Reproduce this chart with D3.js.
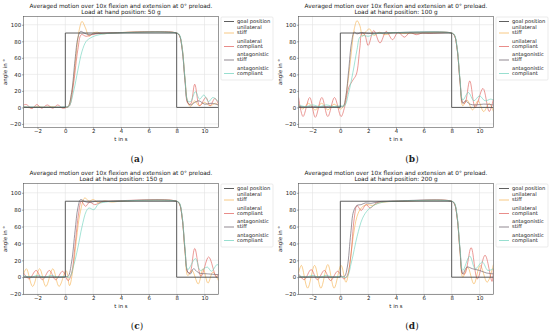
<!DOCTYPE html>
<html lang="en">
<head>
  <meta charset="UTF-8">
  <title>Averaged motion</title>
  <style>
    body { margin: 0; background: #fff; }
    text { font-family: "DejaVu Sans", sans-serif; fill: #222; }
  </style>
</head>
<body>
  <script src="https://d3js.org/d3.v7.min.js"></script>
  <div id="chart"></div>
  <script>

    // labels and ticks
    var titleLine = "Averaged motion over 10x flexion and extension at 0\u00b0 preload."
    var loads = ["50 g", "100 g", "150 g", "200 g"]
    var captions = ["a", "b", "c", "d"]
    var seriesNames = ["goal position", "unilateral\nstiff", "unilateral\ncompliant", "antagonistic\nstiff", "antagonistic\ncompliant"]
    var xTicks = [-2, 0, 2, 4, 6, 8, 10]
    var yTicks = [-20, 0, 20, 40, 60, 80, 100]

    // goal trajectory, same in every panel
    var goal = [[-3, 0], [0, 0], [0, 90], [8, 90], [8, 0], [11, 0]]

    // (a) 50 g
    var a_uniStiff = [[-3, 1], [-2.5, -0.5], [-2, 1], [-1.5, 0], [-1, 1], [-0.5, 0], [0, 0], [0.2, 1], [0.5, 22], [0.8, 68], [1.0, 94], [1.2, 104], [1.45, 96], [1.7, 86], [2.0, 90], [2.3, 91], [2.7, 89], [3.2, 90], [8, 90], [8.2, 87], [8.4, 72], [8.6, 35], [8.8, 6], [9.0, 1], [9.3, 8], [9.6, 2], [10.0, 6], [10.4, 2], [10.8, 5], [11, 2]]
    var a_uniComp = [[-3, 3], [-2.8, 3.5], [-2.4, -1.5], [-2.05, 3.5], [-1.7, -1], [-1.3, 3], [-0.9, -1], [-0.55, 3], [-0.2, -1], [0.1, 0], [0.3, 2], [0.6, 30], [0.9, 70], [1.15, 88], [1.5, 86], [1.9, 88], [2.5, 89.5], [3.2, 90], [8, 90], [8.2, 87], [8.4, 70], [8.6, 32], [8.8, 5], [9.0, 4], [9.3, 28], [9.65, 2], [10.1, 12], [10.4, 2], [10.75, 11], [11, 4]]
    var a_antStiff = [[-3, 0.5], [0, 0.5], [0.2, 1], [0.45, 18], [0.7, 58], [0.9, 84], [1.1, 92], [1.35, 90], [1.7, 88], [2.2, 89.5], [3, 90], [8, 90], [8.2, 87], [8.4, 70], [8.6, 33], [8.8, 6], [9.0, 3], [9.3, 6], [9.6, 8], [10.0, 4], [10.5, 5], [11, 3]]
    var a_antComp = [[-3, 0.5], [0, 0.5], [0.25, 1], [0.6, 20], [0.9, 45], [1.2, 68], [1.5, 80], [1.8, 84], [2.2, 87], [2.8, 89], [3.6, 90], [8, 90], [8.2, 88], [8.4, 72], [8.6, 35], [8.8, 8], [9.0, 7], [9.35, 19], [9.65, 10], [9.95, 15], [10.3, 7], [10.6, 12], [11, 7]]

    // (b) 100 g
    var b_uniStiff = [[-3, 4], [-2.7, -2], [-2.3, 5], [-1.8, -3], [-1.35, 5], [-0.9, -3], [-0.45, 4], [0, -2], [0.25, 2], [0.5, 25], [0.8, 68], [1.0, 95], [1.2, 105], [1.4, 99], [1.6, 86], [1.85, 92], [2.1, 95], [2.4, 87], [2.8, 91], [3.2, 88], [3.8, 90.5], [4.5, 89.5], [5.5, 90], [8, 90], [8.2, 87], [8.4, 70], [8.6, 32], [8.8, 2], [9.1, 9], [9.5, -3], [9.9, 8], [10.3, -5], [10.7, 5], [11, -5]]
    var b_uniComp = [[-3, 12], [-2.68, -11], [-2.2, 12], [-1.8, -12], [-1.33, 12], [-0.9, -11], [-0.42, 12], [0.05, -11], [0.3, 0], [0.6, 24], [0.9, 33], [1.15, 40], [1.4, 72], [1.55, 90], [1.75, 88], [2.0, 75], [2.4, 93], [2.85, 78], [3.3, 92], [3.75, 82], [4.15, 91], [4.6, 85], [5.0, 90.5], [5.45, 88], [5.9, 90], [6.4, 89.5], [7, 90], [8, 90], [8.2, 87], [8.4, 70], [8.6, 32], [8.8, 6], [8.95, 5], [9.3, 32], [9.7, 0], [10.25, 23], [10.7, -5], [11, 10]]
    var b_antStiff = [[-3, 1], [0, 1], [0.2, 1], [0.4, 14], [0.6, 45], [0.8, 78], [1.0, 91], [1.2, 89], [1.5, 90.5], [2, 89.5], [3, 90], [8, 90], [8.2, 87], [8.4, 70], [8.6, 32], [8.8, 5], [9.0, 8], [9.3, 4], [9.7, 3], [10.3, 4], [11, 3]]
    var b_antComp = [[-3, 3], [-2.5, 1], [-2, 3], [-1.5, 1], [-1, 3], [-0.5, 1], [0, 2], [0.3, 2], [0.6, 18], [0.9, 42], [1.2, 70], [1.4, 85], [1.65, 87], [2.0, 86], [2.5, 89], [3.2, 90], [8, 90], [8.2, 88], [8.4, 72], [8.6, 35], [8.8, 9], [9.2, 18], [9.6, 8], [10.0, 14], [10.4, 8], [10.8, 10], [11, 9]]

    // (c) 150 g
    var c_uniStiff = [[-3, 4], [-2.8, 10], [-2.35, -11], [-1.85, 10], [-1.4, -11], [-0.9, 10], [-0.45, -11], [0.05, 8], [0.3, -10], [0.55, 10], [0.8, 45], [1.05, 75], [1.4, 94], [1.7, 90], [2.0, 92], [2.4, 88], [2.8, 90.5], [3.3, 89], [4, 90], [8, 90], [8.2, 87], [8.4, 70], [8.6, 30], [8.8, 2], [9.1, 8], [9.55, -8], [9.9, 10], [10.25, -7], [10.6, 6], [11, -4]]
    var c_uniComp = [[-3, 5], [-2.6, -2], [-2.1, 8], [-1.65, -3], [-1.15, 8], [-0.7, -3], [-0.2, 7], [0.2, -4], [0.45, 5], [0.7, 38], [0.95, 75], [1.15, 90], [1.45, 84], [1.75, 89], [2.1, 86], [2.6, 89], [3.2, 90], [8, 90], [8.2, 87], [8.4, 70], [8.6, 32], [8.8, 6], [8.95, 5], [9.3, 34], [9.75, 1], [10.3, 24], [10.85, 0], [11, 4]]
    var c_antStiff = [[-3, 0.5], [0, 0.5], [0.2, 1], [0.45, 18], [0.7, 55], [0.9, 82], [1.1, 92], [1.35, 90], [1.7, 88.5], [2.2, 90], [3, 90], [8, 90], [8.2, 87], [8.4, 70], [8.6, 32], [8.8, 6], [9.0, 4], [9.2, 10], [9.6, 5], [10.2, 4], [11, 3]]
    var c_antComp = [[-3, 2], [-2.5, 0], [-2, 2], [-1.5, 0], [-1, 2], [-0.5, 0], [0, 1], [0.3, 0], [0.6, 14], [0.9, 35], [1.2, 60], [1.5, 78], [1.7, 82], [2.05, 80], [2.4, 87], [2.9, 89], [3.6, 90], [8, 90], [8.2, 88], [8.4, 72], [8.6, 35], [8.8, 9], [9.35, 22], [9.7, 8], [10.2, 12], [10.5, 7], [10.9, 15], [11, 14]]

    // (d) 200 g
    var d_uniStiff = [[-3, 5], [-2.8, 14], [-2.35, -13], [-1.85, 14], [-1.4, -13], [-0.9, 15], [-0.45, -13], [0.05, 14], [0.4, -6], [0.65, 12], [0.9, 45], [1.2, 72], [1.5, 82], [1.9, 86], [2.3, 85], [2.8, 88], [3.5, 89.5], [4.5, 90], [8, 90], [8.2, 87], [8.4, 70], [8.6, 30], [8.8, 0], [9.15, 12], [9.6, -8], [10.05, 14], [10.55, -6], [11, 15]]
    var d_uniComp = [[-3, 4], [-2.6, -3], [-2.1, 9], [-1.65, -3], [-1.15, 8], [-0.7, -4], [-0.2, 7], [0.25, -2], [0.5, 2], [0.75, 25], [1.0, 70], [1.2, 85], [1.5, 79], [1.85, 86], [2.15, 82], [2.6, 88], [3.2, 89.5], [4, 90], [8, 90], [8.2, 87], [8.4, 70], [8.6, 32], [8.8, 4], [8.95, 4], [9.4, 35], [9.85, -2], [10.4, 26], [10.9, -5], [11, 10]]
    var d_antStiff = [[-3, 0.5], [0, 0.5], [0.3, 1], [0.5, 12], [0.75, 52], [0.95, 78], [1.2, 85], [1.5, 86], [1.8, 88], [2.2, 87.5], [2.8, 89.5], [3.5, 90], [8, 90], [8.2, 87], [8.4, 70], [8.6, 32], [8.8, 4], [9.1, 12], [9.5, 10], [10.0, 8], [10.5, 5], [11, 4]]
    var d_antComp = [[-3, 2], [-2.5, 0], [-2, 2], [-1.5, 0], [-1, 2], [-0.5, 0], [0, 1], [0.45, 0], [0.8, 18], [1.2, 48], [1.6, 70], [2.0, 80], [2.5, 86], [3.1, 89], [4, 90], [8, 90], [8.2, 88], [8.4, 72], [8.6, 35], [8.8, 8], [9.3, 25], [9.7, 10], [10.2, 18], [10.6, 8], [11, 10]]

    var panels = [
      { ox: 0, oy: 0, yDom: [-24.3, 110], load: loads[0], cap: captions[0], series: [goal, a_uniStiff, a_uniComp, a_antStiff, a_antComp] },
      { ox: 275, oy: 0, yDom: [-24.3, 110], load: loads[1], cap: captions[1], series: [goal, b_uniStiff, b_uniComp, b_antStiff, b_antComp] },
      { ox: 0, oy: 167, yDom: [-20.5, 111], load: loads[2], cap: captions[2], series: [goal, c_uniStiff, c_uniComp, c_antStiff, c_antComp] },
      { ox: 275, oy: 167, yDom: [-20.5, 111], load: loads[3], cap: captions[3], series: [goal, d_uniStiff, d_uniComp, d_antStiff, d_antComp] }
    ]

    var colors = ["#4d4d4d", "#f5b454", "#e0605c", "#6f6570", "#6fd3bd"]
    var widths = [0.9, 0.8, 0.8, 0.8, 0.8]
    var opac = [1, 0.8, 0.8, 0.85, 0.8]

    var svg = d3.select("#chart").append("svg")
      .attr("width", 550)
      .attr("height", 333)

    // plot area inside each panel
    var margin = { left: 23.6, right: 218.4, top: 16.5, bottom: 127.5 }

    function drawPanel(p) {
      var g = svg.append("g").attr("transform", "translate(" + p.ox + "," + p.oy + ")")

      var x = d3.scaleLinear().domain([-3, 11]).range([margin.left, margin.right])
      var y = d3.scaleLinear().domain(p.yDom).range([margin.bottom, margin.top])

      // grid
      g.append("g").selectAll("line").data(xTicks).enter().append("line")
        .attr("x1", d => x(d)).attr("x2", d => x(d))
        .attr("y1", margin.top).attr("y2", margin.bottom)
        .attr("stroke", "#e2e2e2").attr("stroke-width", 0.6)
      g.append("g").selectAll("line").data(yTicks).enter().append("line")
        .attr("x1", margin.left).attr("x2", margin.right)
        .attr("y1", d => y(d)).attr("y2", d => y(d))
        .attr("stroke", "#e2e2e2").attr("stroke-width", 0.6)

      // axes
      g.append("g")
        .attr("transform", "translate(0," + margin.bottom + ")")
        .call(d3.axisBottom(x).tickValues(xTicks).tickSize(1.5).tickPadding(0.5).tickFormat(d => d < 0 ? "\u2212" + (-d) : d))
      g.append("g")
        .attr("transform", "translate(" + margin.left + ",0)")
        .call(d3.axisLeft(y).tickValues(yTicks).tickSize(1.5).tickPadding(1).tickFormat(d => d < 0 ? "\u2212" + (-d) : d))
      g.selectAll(".domain").remove()
      g.selectAll(".tick line").attr("stroke", "#444").attr("stroke-width", 0.5)
      g.selectAll(".tick text").style("font-size", "5.4px").style("font-family", "DejaVu Sans").attr("fill", "#333")

      // lines
      var line = d3.line().x(d => x(d[0])).y(d => y(d[1]))
      var clipId = "clip" + p.cap
      g.append("clipPath").attr("id", clipId).append("rect")
        .attr("x", margin.left).attr("y", margin.top)
        .attr("width", margin.right - margin.left).attr("height", margin.bottom - margin.top)
      var lg = g.append("g").attr("clip-path", "url(#" + clipId + ")")
      p.series.forEach(function (s, i) {
        lg.append("path")
          .datum(s)
          .attr("d", i == 0 ? line.curve(d3.curveLinear)(s) : line.curve(d3.curveCatmullRom.alpha(0.5))(s))
          .attr("fill", "none")
          .attr("stroke", colors[i])
          .attr("stroke-width", widths[i])
          .attr("stroke-opacity", opac[i])
      })
      // move the goal line to the top, like in the original
      lg.select("path").raise()

      // frame
      g.append("rect")
        .attr("x", margin.left).attr("y", margin.top)
        .attr("width", margin.right - margin.left).attr("height", margin.bottom - margin.top)
        .attr("fill", "none").attr("stroke", "#555").attr("stroke-width", 0.6)

      // titles
      var cx = (margin.left + margin.right) / 2
      g.append("text").attr("x", cx).attr("y", 7.5).attr("text-anchor", "middle")
        .style("font-size", "5.8px").text(titleLine)
      g.append("text").attr("x", cx).attr("y", 13.5).attr("text-anchor", "middle")
        .style("font-size", "5.8px").text("Load at hand position: " + p.load)
      g.append("text").attr("x", cx).attr("y", 140.5).attr("text-anchor", "middle")
        .style("font-size", "5.4px").text("t in s")
      g.append("text").attr("transform", "translate(6.5," + ((margin.top + margin.bottom) / 2) + ") rotate(-90)")
        .attr("text-anchor", "middle").style("font-size", "5.4px").text("angle in \u00b0")

      // caption
      var cap = g.append("text").attr("x", 137).attr("y", 162).attr("text-anchor", "middle")
        .style("font-family", "'DejaVu Serif', serif").style("font-size", "9px")
      cap.append("tspan").text("(")
      cap.append("tspan").style("font-weight", "bold").text(p.cap)
      cap.append("tspan").text(")")

      // legend
      var lx = 221, ly = 17
      g.append("rect").attr("x", lx).attr("y", ly).attr("width", 52).attr("height", 63)
        .attr("fill", "#fff").attr("stroke", "#ddd").attr("stroke-width", 0.6).attr("rx", 1)
      var rowY = [21.5, 33, 46.5, 60, 73.5]
      seriesNames.forEach(function (name, i) {
        g.append("line").attr("x1", lx + 3).attr("x2", lx + 13)
          .attr("y1", rowY[i]).attr("y2", rowY[i])
          .attr("stroke", colors[i]).attr("stroke-width", 0.9).attr("stroke-opacity", opac[i])
        var parts = name.split("\n")
        parts.forEach(function (t, j) {
          g.append("text").attr("x", lx + 16)
            .attr("y", rowY[i] + 1.8 - (parts.length - 1 - j) * 5.2 - (parts.length > 1 ? 0.5 : 0))
            .style("font-size", "5.2px").attr("fill", "#333").text(t)
        })
      })
    }

    panels.forEach(drawPanel)

  </script>
</body>
</html>
